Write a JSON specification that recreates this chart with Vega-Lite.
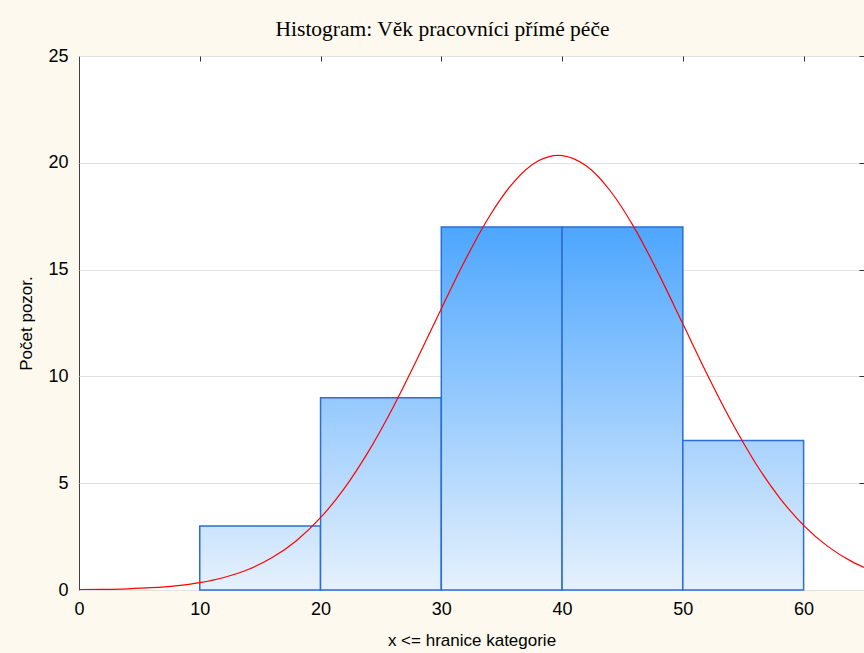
{
  "$schema": "https://vega.github.io/schema/vega-lite/v6.json",
  "width": 785,
  "height": 534,
  "autosize": {"type": "none"},
  "padding": {"left": 79, "top": 56, "right": 0, "bottom": 63},
  "background": "#FEF9EE",
  "title": {
    "text": "Histogram: Věk pracovníci přímé péče",
    "font": "Liberation Serif",
    "fontSize": 21.5,
    "fontWeight": "normal",
    "color": "#000000",
    "anchor": "middle",
    "dx": -29,
    "dy": 28,
    "baseline": "alphabetic",
    "offset": 18
  },
  "config": {
    "view": {"fill": "white", "stroke": "#404040", "strokeWidth": 1},
    "axis": {
      "labelFont": "Liberation Sans",
      "labelFontSize": 18,
      "labelColor": "#000000",
      "labelFlush": false,
      "titleFont": "Liberation Sans",
      "titleFontSize": 17,
      "titleFontWeight": "normal",
      "titleColor": "#000000",
      "domain": false,
      "tickColor": "#303030"
    }
  },
  "datasets": {
    "bins": [
      {"bin_start": 10, "bin_end": 20, "count": 3},
      {"bin_start": 20, "bin_end": 30, "count": 9},
      {"bin_start": 30, "bin_end": 40, "count": 17},
      {"bin_start": 40, "bin_end": 50, "count": 17},
      {"bin_start": 50, "bin_end": 60, "count": 7}
    ],
    "curve": [
      {"x": 0, "y": 0.0139}, {"x": 2, "y": 0.0285}, {"x": 4, "y": 0.0562}, {"x": 6, "y": 0.1068},
      {"x": 8, "y": 0.1955}, {"x": 10, "y": 0.345}, {"x": 12, "y": 0.586}, {"x": 14, "y": 0.9605},
      {"x": 16, "y": 1.517}, {"x": 18, "y": 2.308}, {"x": 20, "y": 3.384}, {"x": 22, "y": 4.782},
      {"x": 24, "y": 6.512}, {"x": 26, "y": 8.545}, {"x": 28, "y": 10.81}, {"x": 30, "y": 13.17},
      {"x": 32, "y": 15.47}, {"x": 34, "y": 17.51}, {"x": 36, "y": 19.1}, {"x": 38, "y": 20.08},
      {"x": 39.7, "y": 20.35}, {"x": 40, "y": 20.34}, {"x": 42, "y": 19.86}, {"x": 44, "y": 18.68},
      {"x": 46, "y": 16.94}, {"x": 48, "y": 14.8}, {"x": 50, "y": 12.46}, {"x": 52, "y": 10.11},
      {"x": 54, "y": 7.908}, {"x": 56, "y": 5.958}, {"x": 58, "y": 4.327}, {"x": 60, "y": 3.029},
      {"x": 62, "y": 2.043}, {"x": 64, "y": 1.328}, {"x": 65, "y": 1.056}
    ]
  },
  "layer": [
    {
      "data": {"name": "bins"},
      "mark": {"type": "rect", "stroke": "#2A6ED6", "strokeWidth": 1.5},
      "encoding": {
        "x": {
          "field": "bin_start", "type": "quantitative",
          "scale": {"domain": [0, 65], "nice": false, "zero": false},
          "axis": {
            "orient": "bottom",
            "values": [0, 10, 20, 30, 40, 50, 60],
            "grid": false,
            "tickSize": 0,
            "labelPadding": 10,
            "title": "x <= hranice kategorie",
            "titlePadding": 14
          }
        },
        "x2": {"field": "bin_end"},
        "y": {
          "field": "count", "type": "quantitative",
          "scale": {"domain": [0, 25], "nice": false},
          "axis": {
            "orient": "left",
            "values": [0, 5, 10, 15, 20, 25],
            "grid": true,
            "gridColor": "#E2E2E2",
            "gridWidth": 1,
            "tickSize": 0,
            "labelPadding": 11,
            "title": "Počet pozor.",
            "titlePadding": 12
          }
        },
        "y2": {"datum": 0},
        "color": {
          "condition": [
            {"test": "datum.count == 3", "value": {"gradient": "linear", "x1": 0, "y1": 1, "x2": 0, "y2": 0, "stops": [{"offset": 0, "color": "#E6F1FC"}, {"offset": 1, "color": "#CBE4FD"}]}},
            {"test": "datum.count == 9", "value": {"gradient": "linear", "x1": 0, "y1": 1, "x2": 0, "y2": 0, "stops": [{"offset": 0, "color": "#E6F1FC"}, {"offset": 1, "color": "#95C9FE"}]}},
            {"test": "datum.count == 7", "value": {"gradient": "linear", "x1": 0, "y1": 1, "x2": 0, "y2": 0, "stops": [{"offset": 0, "color": "#E6F1FC"}, {"offset": 1, "color": "#A7D2FD"}]}}
          ],
          "value": {"gradient": "linear", "x1": 0, "y1": 1, "x2": 0, "y2": 0, "stops": [{"offset": 0, "color": "#E6F1FC"}, {"offset": 1, "color": "#4DA6FF"}]}
        }
      }
    },
    {
      "data": {"name": "curve"},
      "mark": {"type": "line", "color": "#FF0000", "strokeWidth": 1.2, "interpolate": "monotone", "clip": true},
      "encoding": {
        "x": {
          "field": "x", "type": "quantitative",
          "axis": {"orient": "top", "values": [10, 20, 30, 40, 50, 60], "labels": false, "grid": false, "title": null, "tickSize": -5}
        },
        "y": {
          "field": "y", "type": "quantitative",
          "axis": {"orient": "right", "values": [5, 10, 15, 20, 25], "labels": false, "grid": false, "title": null, "tickSize": -5}
        }
      }
    }
  ],
  "resolve": {"axis": {"x": "independent", "y": "independent"}}
}
